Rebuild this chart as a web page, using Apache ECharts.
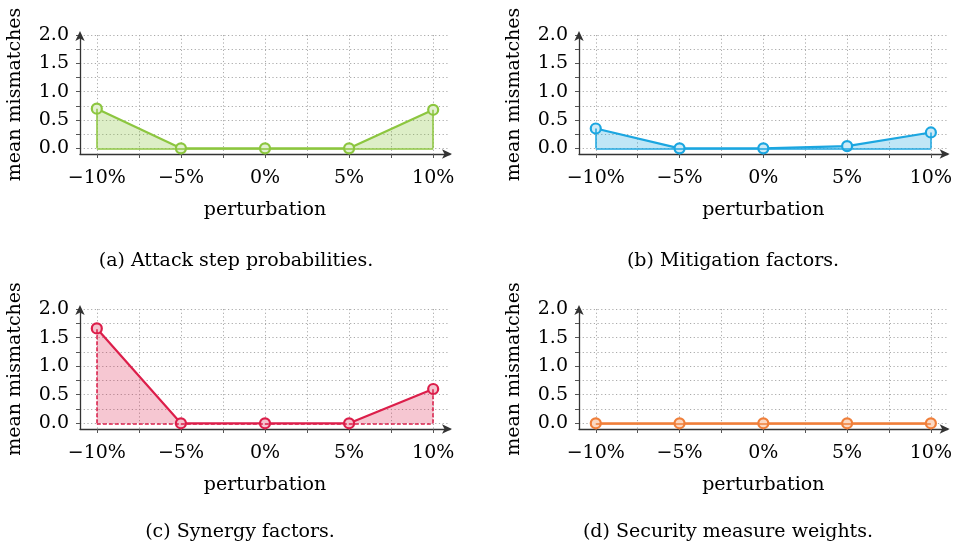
<!DOCTYPE html>
<html>
<head>
<meta charset="utf-8">
<script src="https://cdn.jsdelivr.net/npm/echarts@6/dist/echarts.min.js"></script>
<style>
  html, body { margin: 0; padding: 0; background: #fff; }
  #chart { width: 955px; height: 542px; }
</style>
</head>
<body>
<div id="chart"></div>
<script>
// data
const perturbation = [-10, -5, 0, 5, 10]
const attackStep = [0.7, 0, 0, 0, 0.68]
const mitigation = [0.35, 0, 0, 0.04, 0.28]
const synergy = [1.66, 0, 0, 0, 0.6]
const securityWeights = [0, 0, 0, 0, 0]

const xLabelTicks = [-10, -5, 0, 5, 10]
const xMinorTicks = [-10, -7.5, -5, -2.5, 0, 2.5, 5, 7.5, 10]
const yLabelTicks = [0, 0.5, 1, 1.5, 2]
const yMinorTicks = [0, 0.25, 0.5, 0.75, 1, 1.25, 1.5, 1.75, 2]

const captions = [
  '(a) Attack step probabilities.',
  '(b) Mitigation factors.',
  '(c) Synergy factors.',
  '(d) Security measure weights.'
]

const FONT = 'DejaVu Serif'
const AXIS_COLOR = '#333'

const panels = [
  { values: attackStep, line: '#8cc63f', fill: 'rgba(140,198,63,0.42)', dot: '#e3f1d1', dashed: false,
    grid: { left: 80, top: 35, width: 370, height: 119 }, cap: [231, 247] },
  { values: mitigation, line: '#1ba6e0', fill: 'rgba(27,166,224,0.4)', dot: '#cdeaf7', dashed: false,
    grid: { left: 579, top: 35, width: 370, height: 119 }, cap: [728, 247] },
  { values: synergy, line: '#dc1e4a', fill: 'rgba(220,30,74,0.36)', dot: '#f4c4cf', dashed: true,
    grid: { left: 80, top: 309, width: 370, height: 120 }, cap: [235, 518] },
  { values: securityWeights, line: '#f07f3a', fill: 'rgba(240,127,58,0.4)', dot: '#fbd9c4', dashed: false,
    grid: { left: 579, top: 309, width: 370, height: 120 }, cap: [723, 518] }
]

const fmtPct = (v) => (v < 0 ? '\u2212' + Math.abs(v) : String(v)) + '%'

const chart = echarts.init(document.getElementById('chart'))

const grids = []
const xAxes = []
const yAxes = []
const series = []
const titles = []

panels.forEach((p, i) => {
  grids.push(p.grid)
  xAxes.push({
    type: 'value',
    gridIndex: i,
    min: -11,
    max: 11,
    name: 'perturbation',
    nameLocation: 'middle',
    nameGap: 47,
    nameTextStyle: { fontFamily: FONT, fontSize: 19, color: '#000' },
    axisLine: {
      onZero: false,
      symbol: ['none', 'arrow'],
      symbolSize: [7, 10],
      symbolOffset: [0, 2],
      lineStyle: { color: AXIS_COLOR, width: 1.3 }
    },
    axisTick: { show: true, length: 4, customValues: xMinorTicks, lineStyle: { color: '#555' } },
    axisLabel: {
      customValues: xLabelTicks,
      margin: 15,
      fontFamily: FONT,
      fontSize: 19,
      color: '#000',
      formatter: fmtPct
    },
    splitLine: { show: true, lineStyle: { color: '#aaa', type: [1.2, 2.5], width: 1 } }
  })
  yAxes.push({
    type: 'value',
    gridIndex: i,
    min: -0.1,
    max: 2,
    name: 'mean mismatches',
    nameLocation: 'middle',
    nameGap: 55,
    nameTextStyle: { fontFamily: FONT, fontSize: 19, color: '#000' },
    axisLine: {
      show: true,
      onZero: false,
      symbol: ['none', 'arrow'],
      symbolSize: [7, 10],
      symbolOffset: [0, 4],
      lineStyle: { color: AXIS_COLOR, width: 1.3 }
    },
    axisTick: { show: true, length: 4, customValues: yMinorTicks, lineStyle: { color: '#555' } },
    axisLabel: {
      customValues: yLabelTicks,
      margin: 11,
      fontFamily: FONT,
      fontSize: 19,
      color: '#000',
      formatter: (v) => v.toFixed(1)
    },
    splitLine: { show: true, lineStyle: { color: '#aaa', type: [1.2, 2.5], width: 1 } }
  })

  const pts = perturbation.map((x, k) => [x, p.values[k]])
  const x0 = perturbation[0]
  const xN = perturbation[perturbation.length - 1]
  const v0 = p.values[0]
  const vN = p.values[p.values.length - 1]

  series.push({
    type: 'line',
    xAxisIndex: i,
    yAxisIndex: i,
    data: pts,
    symbol: 'circle',
    symbolSize: 10,
    lineStyle: { color: p.line, width: 2.2 },
    itemStyle: { color: p.dot, borderColor: p.line, borderWidth: 2.2 },
    areaStyle: { color: p.fill, origin: 0 },
    z: 3,
    markLine: {
      silent: true,
      symbol: 'none',
      animation: false,
      label: { show: false },
      emphasis: { disabled: true },
      lineStyle: { color: p.line, width: 1.5, opacity: 1, type: p.dashed ? [4, 2] : 'solid' },
      data: [
        [{ coord: [x0, 0] }, { coord: [x0, v0] }],
        [{ coord: [xN, 0] }, { coord: [xN, vN] }],
        [{ coord: [x0, 0] }, { coord: [xN, 0] }]
      ]
    }
  })

  titles.push({
    text: captions[i],
    left: p.cap[0],
    top: p.cap[1],
    textAlign: 'center',
    textStyle: { fontFamily: FONT, fontSize: 19, fontWeight: 'normal', color: '#000' }
  })
})

chart.setOption({
  animation: false,
  title: titles,
  grid: grids,
  xAxis: xAxes,
  yAxis: yAxes,
  series: series
})
</script>
</body>
</html>
